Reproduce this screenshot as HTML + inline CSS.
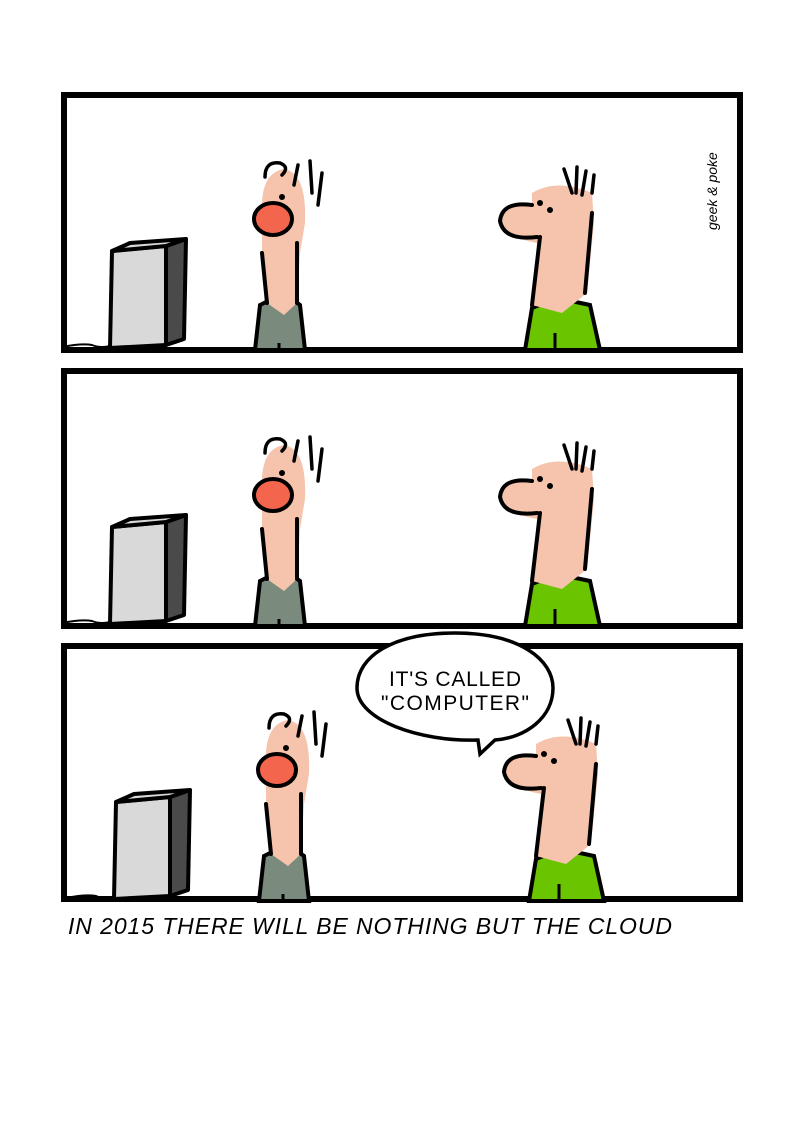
<!DOCTYPE html>
<html><head><meta charset="utf-8"><style>
html,body{margin:0;padding:0;background:#fff;}
svg{display:block;}
.cap{font-family:"Liberation Sans",sans-serif;font-style:italic;font-size:23px;}
</style></head><body>
<svg width="800" height="1134" viewBox="0 0 800 1134">
<defs>
<g id="scene">
  <!-- computer -->
  <path d="M0,254 Q20,250 30,252 Q40,256 50,252" stroke="#000" stroke-width="2" fill="none"/>
  <path d="M50,158 L104,153 L104,252 L48,255 Z" fill="#d9d9d9" stroke="#000" stroke-width="4" stroke-linejoin="round"/>
  <path d="M104,153 L124,146 L122,246 L104,252 Z" fill="#4a4a4a" stroke="#000" stroke-width="4" stroke-linejoin="round"/>
  <path d="M50,158 L68,150 L124,146 L104,153 Z" fill="#d9d9d9" stroke="#000" stroke-width="4" stroke-linejoin="round"/>
  <!-- person 1 -->
  <path d="M193,257 L198,212 L222,200 L238,212 L243,257 Z" fill="#7a8a7c" stroke="#000" stroke-width="4"/>
  <path d="M200,120 Q198,80 222,76 Q245,80 243,130 L238,160 L235,210 L222,222 L205,210 L200,160 Z" fill="#f6c4ad"/>
  <path d="M200,160 L205,210 M235,150 L235,210" stroke="#000" stroke-width="4" fill="none" stroke-linecap="round"/>
  <ellipse cx="211" cy="126" rx="19" ry="16" fill="#f4654d" stroke="#000" stroke-width="4"/>
  <circle cx="220" cy="104" r="3" fill="#000"/>
  <path d="M203,84 Q203,68 218,70 Q228,74 220,82 M236,72 L232,92 M248,68 L250,100 M260,80 L256,112" stroke="#000" stroke-width="3.5" fill="none" stroke-linecap="round"/>
  <path d="M217,250 L217,257" stroke="#000" stroke-width="3"/>
  <!-- person 2 -->
  <path d="M463,257 L470,215 L495,205 L528,212 L538,257 Z" fill="#6ac400" stroke="#000" stroke-width="4"/>
  <path d="M470,100 Q495,85 530,100 L532,130 L525,200 L500,220 L470,212 L475,150 Q445,145 438,128 Q440,108 470,112 Z" fill="#f6c4ad"/>
  <path d="M470,112 Q440,108 438,128 Q442,148 475,144 M478,144 L470,212 M530,120 L523,200" stroke="#000" stroke-width="4" fill="none" stroke-linecap="round"/>
  <circle cx="478" cy="110" r="3" fill="#000"/><circle cx="488" cy="117" r="3" fill="#000"/>
  <path d="M502,76 L510,100 M515,74 L514,100 M524,78 L520,102 M532,82 L530,100" stroke="#000" stroke-width="3.5" fill="none" stroke-linecap="round"/>
  <path d="M493,240 L493,257" stroke="#000" stroke-width="3"/>
</g>
</defs>
<g>
  <rect x="64" y="95" width="676" height="255" fill="#fff" stroke="#000" stroke-width="6"/>
  <use href="#scene" x="62" y="93"/>
  <text x="0" y="0" transform="translate(717,230) rotate(-90)" font-family="Liberation Sans, sans-serif" font-style="italic" font-size="14">geek &amp; poke</text>
</g>
<g>
  <rect x="64" y="371" width="676" height="255" fill="#fff" stroke="#000" stroke-width="6"/>
  <use href="#scene" x="62" y="369"/>
</g>
<g>
  <rect x="64" y="646" width="676" height="253" fill="#fff" stroke="#000" stroke-width="6"/>
  <use href="#scene" x="66" y="644"/>
  <g>
    <path d="M455,633 C520,633 553,660 553,688 C553,718 525,738 495,740 L480,754 L478,740 C420,742 357,720 357,688 C357,655 395,633 455,633 Z" fill="#fff" stroke="#000" stroke-width="3.5"/>
    <text x="455" y="686" text-anchor="middle" textLength="132" font-family="Liberation Sans, sans-serif" font-size="21">IT'S CALLED</text>
    <text x="455" y="710" text-anchor="middle" textLength="148" font-family="Liberation Sans, sans-serif" font-size="21">"COMPUTER"</text>
  </g>
</g>
<text x="68" y="934" class="cap" textLength="604">IN 2015 THERE WILL BE NOTHING BUT THE CLOUD</text>
</svg>
</body></html>
